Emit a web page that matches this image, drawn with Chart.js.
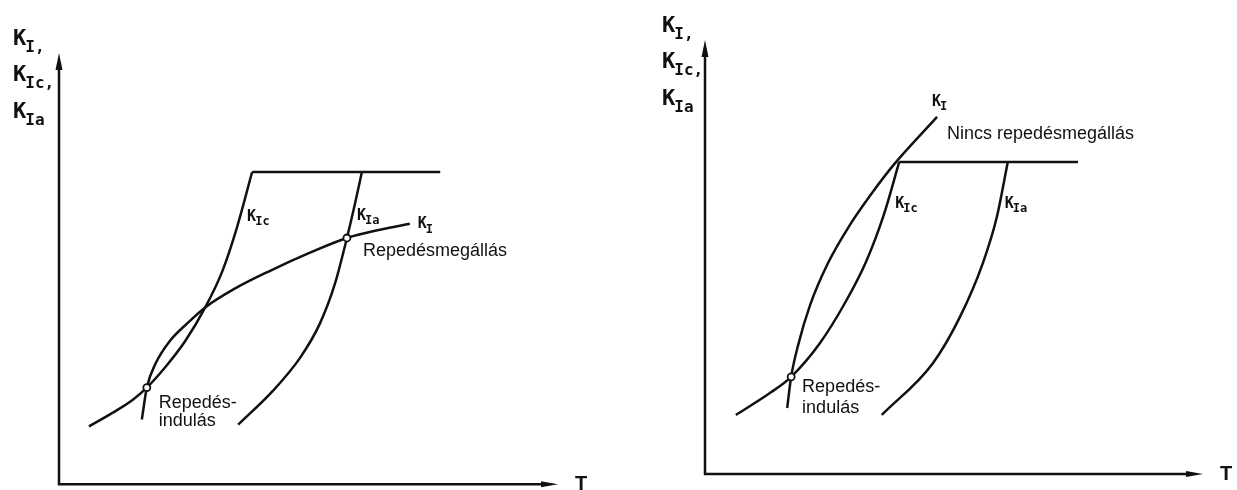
<!DOCTYPE html>
<html lang="hu">

<head>
    <meta charset="UTF-8">
    <title>K_I, K_Ic, K_Ia – T</title>
    <script src="https://cdn.jsdelivr.net/npm/chart.js"></script>
    <style>
        body {
            margin: 0;
            background: #fff;
        }

        .wrap {
            position: relative;
            width: 1237px;
            height: 490px;
            overflow: hidden;
        }

        #leftPanel {
            position: absolute;
            left: 0;
            top: 0;
        }

        #rightPanel {
            position: absolute;
            left: 620px;
            top: 0;
        }
    </style>
</head>

<body>
    <div class="wrap">
        <canvas id="leftPanel" width="620" height="490"></canvas>
        <canvas id="rightPanel" width="617" height="490"></canvas>
    </div>

    <script>
        // values in arbitrary units: T (0..100) along x, K (0..100) along y
        // left panel: crack arrest
        const leftKI = [[16.6, 15.0], [17.6, 22.4], [19.4, 28.1], [22.2, 33.2], [25.7, 37.3], [29.3, 41.0],
            [35.3, 45.4], [42.3, 49.5], [50.3, 53.7], [57.7, 57.1], [64.3, 59.0], [70.3, 60.4]];
        const leftKIc = [[6.0, 13.4], [10.8, 16.6], [14.8, 19.6], [17.6, 22.4], [21.2, 27.0], [25.3, 33.2],
            [29.3, 41.0], [32.7, 49.3], [35.7, 59.7], [38.7, 72.4]];
        const leftKIa = [[35.9, 13.8], [42.9, 21.7], [48.3, 29.3], [52.3, 37.3], [55.3, 46.5], [57.7, 57.1],
            [59.3, 65.0], [60.7, 72.4]];
        const leftShelf = [[38.7, 72.4], [76.4, 72.4]];
        const leftPoints = [[17.6, 22.4], [57.7, 57.1]];

        // right panel: no crack arrest
        const rightKI = [[16.5, 15.2], [17.3, 22.4], [18.7, 29.7], [21.1, 38.9], [24.7, 48.6], [29.1, 57.4],
            [33.5, 64.7], [38.0, 71.4], [46.6, 82.3]];
        const rightKIc = [[6.2, 13.6], [13.1, 18.7], [17.3, 22.4], [23.1, 30.2], [28.1, 39.4], [32.3, 48.8],
            [35.9, 59.7], [39.0, 71.9]];
        const rightKIa = [[35.5, 13.6], [45.8, 25.6], [51.2, 36.2], [55.8, 48.6], [58.6, 59.2], [60.8, 71.9]];
        const rightShelf = [[39.0, 71.9], [74.9, 71.9]];
        const rightPoints = [[17.3, 22.4]];

        // text: [T, K, text]
        const leftNotes = [[60.9, 53.0, 'Repedésmegállás'], [20.0, 17.7, 'Repedés-'], [20.0, 13.4, 'indulás']];
        const leftTags = [[37.7, 61.1, 'Ic'], [59.7, 61.3, 'Ia'], [71.9, 59.4, 'I']];
        const rightNotes = [[48.6, 77.2, 'Nincs repedésmegállás'], [19.5, 18.9, 'Repedés-'], [19.5, 14.1, 'indulás']];
        const rightTags = [[45.6, 84.8, 'I'], [38.2, 61.3, 'Ic'], [60.2, 61.3, 'Ia']];
        const axisSubs = [['I', ','], ['Ic', ','], ['Ia', '']];
        const axisTitleX = 'T';

        const INK = '#111';
        const MONO = '"DejaVu Sans Mono", monospace';

        function pts(arr) {
            return arr.map(p => ({ x: p[0], y: p[1] }));
        }

        function curve(arr) {
            return {
                data: pts(arr),
                showLine: true,
                borderColor: INK,
                borderWidth: 2.5,
                pointRadius: 0,
                cubicInterpolationMode: 'monotone',
                fill: false
            };
        }

        function drawK(ctx, x, y, sub, tail, big, small, weight) {
            ctx.font = weight + ' ' + big + 'px ' + MONO;
            ctx.fillText('K', x, y);
            const w = ctx.measureText('K').width;
            ctx.font = weight + ' ' + small + 'px ' + MONO;
            ctx.fillText(sub + tail, x + w - 1, y + big * 0.3);
        }

        const sketch = {
            id: 'sketch',
            afterDraw(chart, args, opts) {
                const ctx = chart.ctx;
                const xs = chart.scales.x, ys = chart.scales.y;
                const x0 = xs.getPixelForValue(0), x1 = xs.getPixelForValue(100);
                const y0 = ys.getPixelForValue(0), y1 = ys.getPixelForValue(100);
                ctx.save();
                ctx.strokeStyle = INK;
                ctx.fillStyle = INK;
                ctx.lineWidth = 2.5;
                ctx.lineCap = 'butt';

                // axes
                ctx.beginPath();
                ctx.moveTo(x0, y1 + 12);
                ctx.lineTo(x0, y0);
                ctx.lineTo(x1 - 12, y0);
                ctx.stroke();
                // arrow heads
                ctx.beginPath();
                ctx.moveTo(x0, y1);
                ctx.lineTo(x0 - 3.5, y1 + 17);
                ctx.lineTo(x0 + 3.5, y1 + 17);
                ctx.closePath();
                ctx.fill();
                ctx.beginPath();
                ctx.moveTo(x1, y0);
                ctx.lineTo(x1 - 17, y0 - 3);
                ctx.lineTo(x1 - 17, y0 + 3);
                ctx.closePath();
                ctx.fill();

                ctx.textBaseline = 'alphabetic';
                ctx.textAlign = 'left';

                // axis titles
                ctx.font = 'bold 20px "Liberation Sans Narrow", "Liberation Sans", Arial, sans-serif';
                ctx.fillText(axisTitleX, x1 + 17, y0 + 6);
                const kx = x0 - opts.kOffset;
                const lines = [-8, 28, 65];
                axisSubs.forEach((s, i) => drawK(ctx, kx, y1 + lines[i], s[0], s[1], 22, 16, 'bold'));

                // curve tags
                opts.tags.forEach(t => {
                    drawK(ctx, xs.getPixelForValue(t[0]), ys.getPixelForValue(t[1]), t[2], '', 15, 12, 'bold');
                });

                // notes
                ctx.font = '18px "Liberation Sans", Arial, sans-serif';
                opts.notes.forEach(n => {
                    ctx.fillText(n[2], xs.getPixelForValue(n[0]), ys.getPixelForValue(n[1]));
                });
                ctx.restore();
            }
        };

        function makePanel(canvasId, curves, points, notes, tags, padding, kOffset) {
            const datasets = [{
                data: pts(points),
                showLine: false,
                pointRadius: 3.5,
                pointBackgroundColor: '#fff',
                pointBorderColor: INK,
                pointBorderWidth: 1.8
            }].concat(curves.map(curve));

            new Chart(document.getElementById(canvasId), {
                type: 'scatter',
                data: { datasets: datasets },
                options: {
                    responsive: false,
                    animation: false,
                    events: [],
                    layout: { padding: padding },
                    scales: {
                        x: { type: 'linear', min: 0, max: 100, display: false },
                        y: { type: 'linear', min: 0, max: 100, display: false }
                    },
                    plugins: {
                        legend: { display: false },
                        tooltip: { enabled: false },
                        sketch: { notes: notes, tags: tags, kOffset: kOffset }
                    }
                },
                plugins: [sketch]
            });
        }

        makePanel('leftPanel', [leftKI, leftKIc, leftKIa, leftShelf], leftPoints, leftNotes, leftTags,
            { left: 59, top: 53, right: 62, bottom: 3 }, 46);
        makePanel('rightPanel', [rightKI, rightKIc, rightKIa, rightShelf], rightPoints, rightNotes, rightTags,
            { left: 85, top: 40, right: 34, bottom: 16 }, 43);
    </script>
</body>

</html>
